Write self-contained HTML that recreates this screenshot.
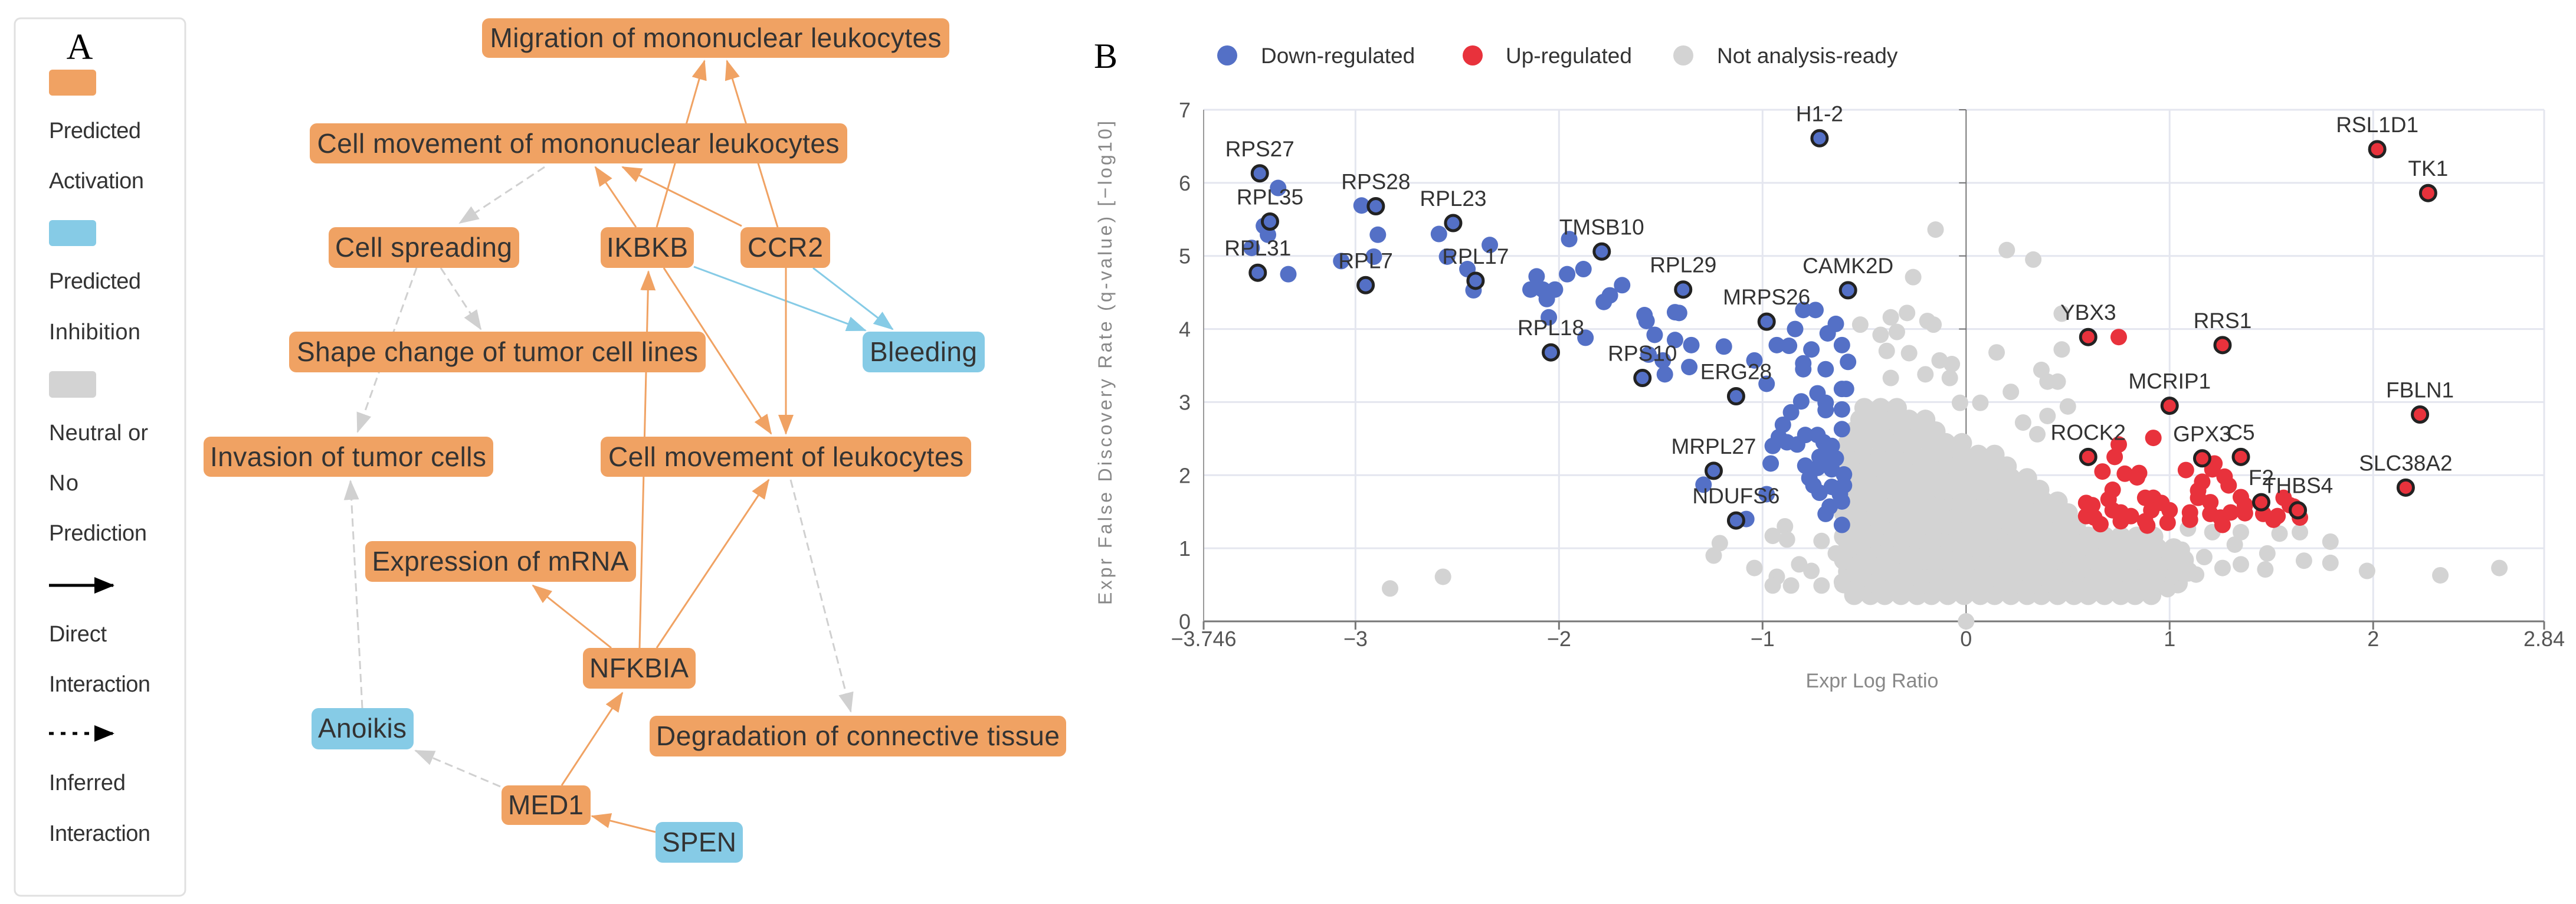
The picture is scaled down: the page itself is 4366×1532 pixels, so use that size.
<!DOCTYPE html>
<html><head><meta charset="utf-8"><style>
html,body{margin:0;padding:0;background:#fff;}
svg{display:block;}
text{font-family:"Liberation Sans",sans-serif;}
</style></head>
<body>
<svg id="root" width="4366" height="1532" viewBox="0 0 4366 1532" xmlns="http://www.w3.org/2000/svg">
<defs>
<marker id="ao" markerUnits="userSpaceOnUse" markerWidth="34" markerHeight="26" refX="32" refY="13" orient="auto"><path d="M0,0 L34,13 L0,26 Z" fill="#f0a263"/></marker>
<marker id="ab" markerUnits="userSpaceOnUse" markerWidth="34" markerHeight="26" refX="32" refY="13" orient="auto"><path d="M0,0 L34,13 L0,26 Z" fill="#86cbe6"/></marker>
<marker id="ag" markerUnits="userSpaceOnUse" markerWidth="34" markerHeight="26" refX="32" refY="13" orient="auto"><path d="M0,0 L34,13 L0,26 Z" fill="#d0d0d0"/></marker>
<marker id="ak" markerUnits="userSpaceOnUse" markerWidth="34" markerHeight="28" refX="32" refY="14" orient="auto"><path d="M0,0 L34,14 L0,28 Z" fill="#000"/></marker>
</defs>

<g>
<rect x="25" y="31" width="289" height="1487" rx="10" fill="#fff" stroke="#e0e0e0" stroke-width="3"/>
<text x="135" y="100" font-size="62" text-anchor="middle" fill="#000" style="font-family:'Liberation Serif',serif">A</text>
<rect x="83" y="118" width="80" height="44" rx="6" fill="#f0a263"/>
<text x="83" y="234" font-size="38" fill="#333" textLength="156">Predicted</text>
<text x="83" y="319" font-size="38" fill="#333" textLength="161">Activation</text>
<rect x="83" y="373" width="80" height="44" rx="6" fill="#86cbe6"/>
<text x="83" y="489" font-size="38" fill="#333" textLength="156">Predicted</text>
<text x="83" y="575" font-size="38" fill="#333" textLength="155">Inhibition</text>
<rect x="83" y="629" width="80" height="45" rx="6" fill="#d3d3d3"/>
<text x="83" y="746" font-size="38" fill="#333" textLength="168">Neutral or</text>
<text x="83" y="831" font-size="38" fill="#333" textLength="50">No</text>
<text x="83" y="916" font-size="38" fill="#333" textLength="166">Prediction</text>
<line x1="83" y1="992" x2="192" y2="992" stroke="#000" stroke-width="5" marker-end="url(#ak)"/>
<text x="83" y="1087" font-size="38" fill="#333" textLength="98">Direct</text>
<text x="83" y="1172" font-size="38" fill="#333" textLength="172">Interaction</text>
<line x1="83" y1="1243" x2="192" y2="1243" stroke="#000" stroke-width="5" stroke-dasharray="8,12" marker-end="url(#ak)"/>
<text x="83" y="1339" font-size="38" fill="#333" textLength="130">Inferred</text>
<text x="83" y="1425" font-size="38" fill="#333" textLength="172">Interaction</text>
</g>

<g stroke-width="3" fill="none">
<line x1="1113" y1="385" x2="1194" y2="103" stroke="#f0a263" marker-end="url(#ao)"/>
<line x1="1318" y1="385" x2="1232" y2="103" stroke="#f0a263" marker-end="url(#ao)"/>
<line x1="1078" y1="385" x2="1009" y2="283" stroke="#f0a263" marker-end="url(#ao)"/>
<line x1="1257" y1="383" x2="1055" y2="283" stroke="#f0a263" marker-end="url(#ao)"/>
<line x1="923" y1="283" x2="779" y2="378" stroke="#d0d0d0" stroke-dasharray="14,8" marker-end="url(#ag)"/>
<line x1="747" y1="454" x2="815" y2="558" stroke="#d0d0d0" stroke-dasharray="14,8" marker-end="url(#ag)"/>
<line x1="706" y1="454" x2="606" y2="732" stroke="#d0d0d0" stroke-dasharray="14,8" marker-end="url(#ag)"/>
<line x1="1176" y1="452" x2="1467" y2="560" stroke="#86cbe6" marker-end="url(#ab)"/>
<line x1="1378" y1="454" x2="1513" y2="558" stroke="#86cbe6" marker-end="url(#ab)"/>
<line x1="1125" y1="454" x2="1307" y2="735" stroke="#f0a263" marker-end="url(#ao)"/>
<line x1="1332" y1="454" x2="1332" y2="735" stroke="#f0a263" marker-end="url(#ao)"/>
<line x1="1084" y1="1098" x2="1099" y2="460" stroke="#f0a263" marker-end="url(#ao)"/>
<line x1="1113" y1="1098" x2="1303" y2="813" stroke="#f0a263" marker-end="url(#ao)"/>
<line x1="1036" y1="1098" x2="903" y2="992" stroke="#f0a263" marker-end="url(#ao)"/>
<line x1="1340" y1="813" x2="1442" y2="1206" stroke="#d0d0d0" stroke-dasharray="14,8" marker-end="url(#ag)"/>
<line x1="614" y1="1200" x2="594" y2="815" stroke="#d0d0d0" stroke-dasharray="14,8" marker-end="url(#ag)"/>
<line x1="848" y1="1333" x2="704" y2="1272" stroke="#d0d0d0" stroke-dasharray="14,8" marker-end="url(#ag)"/>
<line x1="952" y1="1331" x2="1055" y2="1174" stroke="#f0a263" marker-end="url(#ao)"/>
<line x1="1111" y1="1410" x2="1003" y2="1383" stroke="#f0a263" marker-end="url(#ao)"/>
</g>

<g font-size="46" fill="#333">
<g><rect x="817" y="31" width="792" height="67" rx="12" fill="#f0a263"/><text x="1213" y="80" text-anchor="middle" fill="#333" textLength="765">Migration of mononuclear leukocytes</text></g>
<g><rect x="525" y="209" width="911" height="68" rx="12" fill="#f0a263"/><text x="980" y="259" text-anchor="middle" fill="#333" textLength="885">Cell movement of mononuclear leukocytes</text></g>
<g><rect x="557" y="385" width="323" height="69" rx="12" fill="#f0a263"/><text x="718" y="435" text-anchor="middle" fill="#333" textLength="300">Cell spreading</text></g>
<g><rect x="1018" y="385" width="158" height="69" rx="12" fill="#f0a263"/><text x="1097" y="435" text-anchor="middle" fill="#333" textLength="138">IKBKB</text></g>
<g><rect x="1255" y="385" width="152" height="69" rx="12" fill="#f0a263"/><text x="1331" y="435" text-anchor="middle" fill="#333" textLength="128">CCR2</text></g>
<g><rect x="490" y="562" width="706" height="69" rx="12" fill="#f0a263"/><text x="843" y="612" text-anchor="middle" fill="#333" textLength="680">Shape change of tumor cell lines</text></g>
<g><rect x="1462" y="562" width="207" height="69" rx="12" fill="#86cbe6"/><text x="1565" y="612" text-anchor="middle" fill="#333" textLength="182">Bleeding</text></g>
<g><rect x="345" y="740" width="491" height="68" rx="12" fill="#f0a263"/><text x="590" y="790" text-anchor="middle" fill="#333" textLength="468">Invasion of tumor cells</text></g>
<g><rect x="1018" y="740" width="628" height="68" rx="12" fill="#f0a263"/><text x="1332" y="790" text-anchor="middle" fill="#333" textLength="602">Cell movement of leukocytes</text></g>
<g><rect x="619" y="917" width="459" height="69" rx="12" fill="#f0a263"/><text x="848" y="967" text-anchor="middle" fill="#333" textLength="435">Expression of mRNA</text></g>
<g><rect x="988" y="1098" width="191" height="69" rx="12" fill="#f0a263"/><text x="1083" y="1148" text-anchor="middle" fill="#333" textLength="168">NFKBIA</text></g>
<g><rect x="528" y="1200" width="173" height="70" rx="12" fill="#86cbe6"/><text x="614" y="1250" text-anchor="middle" fill="#333" textLength="150">Anoikis</text></g>
<g><rect x="1101" y="1213" width="706" height="69" rx="12" fill="#f0a263"/><text x="1454" y="1263" text-anchor="middle" fill="#333" textLength="684">Degradation of connective tissue</text></g>
<g><rect x="850" y="1331" width="151" height="67" rx="12" fill="#f0a263"/><text x="925" y="1380" text-anchor="middle" fill="#333" textLength="128">MED1</text></g>
<g><rect x="1111" y="1393" width="148" height="69" rx="12" fill="#86cbe6"/><text x="1185" y="1443" text-anchor="middle" fill="#333" textLength="126">SPEN</text></g>
</g>

<text x="1874" y="115" font-size="60" text-anchor="middle" fill="#000" style="font-family:'Liberation Serif',serif">B</text>
<g font-size="37" fill="#333">
<g><circle cx="2080" cy="94" r="17" fill="#5470c6"/><text x="2137" y="107" fill="#333">Down-regulated</text></g>
<g><circle cx="2496" cy="94" r="17" fill="#e8323c"/><text x="2552" y="107" fill="#333">Up-regulated</text></g>
<g><circle cx="2853" cy="94" r="17" fill="#d3d3d3"/><text x="2910" y="107" fill="#333">Not analysis-ready</text></g>
</g>
<g id="grid"></g>
<g id="axes"></g>
<g id="marks"></g>
<g id="labels"></g>
<text x="1884" y="615" font-size="32" fill="#888" text-anchor="middle" transform="rotate(-90 1884 615)" textLength="820">Expr False Discovery Rate (q-value) [−log10]</text>
<text x="3173" y="1165" font-size="34" fill="#888" text-anchor="middle">Expr Log Ratio</text>
</svg>

<script>
const xTicks = [-3.746, -3, -2, -1, 0, 1, 2, 2.84];
const xTickLabels = ["−3.746", "−3", "−2", "−1", "0", "1", "2", "2.84"];
const yTicks = [0, 1, 2, 3, 4, 5, 6, 7];
const yTickLabels = ["0", "1", "2", "3", "4", "5", "6", "7"];

const labeledGenes = ["RPS27","RPL35","RPL31","RPS28","RPL7","RPL23","RPL17","TMSB10","RPL29","RPL18","RPS10","ERG28","MRPS26","CAMK2D","H1-2","MRPL27","NDUFS6","RSL1D1","TK1","YBX3","RRS1","MCRIP1","FBLN1","ROCK2","GPX3","C5","F2","THBS4","SLC38A2"];
const labeledX = [-3.47,-3.42,-3.48,-2.90,-2.95,-2.52,-2.41,-1.79,-1.39,-2.04,-1.59,-1.13,-0.98,-0.58,-0.72,-1.24,-1.13,2.02,2.27,0.60,1.26,1.00,2.23,0.60,1.16,1.35,1.45,1.63,2.16];
const labeledY = [6.13,5.47,4.77,5.68,4.60,5.45,4.66,5.06,4.54,3.68,3.33,3.08,4.10,4.53,6.61,2.06,1.38,6.46,5.86,3.89,3.78,2.95,2.83,2.25,2.23,2.25,1.63,1.52,1.83];

const blueX = [-3.38,-3.45,-3.43,-3.51,-3.33,-2.97,-2.89,-3.07,-2.91,-2.59,-2.34,-2.55,-2.45,-2.42,-1.95,-1.88,-1.96,-2.11,-2.14,-2.08,-2.02,-2.06,-1.69,-1.75,-1.78,-2.05,-1.87,-1.58,-1.57,-1.53,-1.43,-1.41,-1.43,-1.35,-1.36,-1.49,-1.48,-1.56,-1.19,-1.04,-0.98,-0.93,-0.87,-0.84,-0.80,-0.74,-0.76,-0.80,-0.80,-0.69,-0.64,-0.68,-0.61,-0.58,-0.61,-0.59,-0.73,-0.81,-0.69,-0.69,-0.61,-0.86,-0.90,-0.61,-0.92,-0.95,-0.88,-0.83,-0.79,-0.73,-0.70,-0.66,-0.69,-0.64,-0.72,-0.79,-0.73,-0.66,-0.96,-0.60,-0.77,-0.75,-0.72,-0.66,-0.60,-0.62,-0.61,-0.67,-0.69,-0.61,-1.29,-0.98,-1.08];
const blueY = [5.93,5.41,5.29,5.11,4.75,5.69,5.29,4.93,4.99,5.30,5.15,4.99,4.82,4.53,5.23,4.82,4.75,4.72,4.54,4.54,4.54,4.41,4.60,4.46,4.37,4.16,3.88,4.19,4.11,3.92,4.23,4.22,3.85,3.78,3.48,3.57,3.38,3.65,3.76,3.57,3.25,3.78,3.77,4.00,4.26,4.26,3.72,3.53,3.45,3.45,4.07,3.94,3.78,3.55,3.18,3.18,3.12,3.01,2.99,2.89,2.90,2.86,2.69,2.63,2.52,2.40,2.45,2.42,2.55,2.55,2.45,2.40,2.25,2.23,2.25,2.13,2.10,2.08,2.16,2.01,1.96,1.86,1.76,1.84,1.86,1.74,1.64,1.57,1.47,1.32,1.87,1.74,1.40];

const redX = [0.75,0.92,0.75,0.73,0.67,0.78,0.85,0.84,1.08,1.22,1.21,1.27,1.29,1.16,1.14,1.14,1.20,0.72,0.70,0.59,0.62,0.88,0.92,0.96,0.91,1.00,0.72,0.76,0.81,0.59,0.63,0.66,0.76,0.88,0.89,0.99,1.10,1.10,1.20,1.25,1.26,1.30,1.35,1.37,1.37,1.46,1.51,1.53,1.56,1.59,1.61,1.64];
const redY = [3.89,2.51,2.42,2.25,2.05,2.02,2.03,1.97,2.07,2.16,2.08,1.98,1.86,1.91,1.79,1.69,1.63,1.80,1.67,1.62,1.59,1.69,1.69,1.62,1.52,1.52,1.52,1.49,1.44,1.44,1.42,1.33,1.37,1.37,1.31,1.35,1.49,1.39,1.47,1.42,1.32,1.49,1.70,1.59,1.48,1.47,1.39,1.44,1.69,1.59,1.57,1.42];

const grayX = [-0.15,-0.26,-0.52,-0.37,-0.29,-0.19,-0.16,-0.42,-0.34,-0.28,-0.39,-0.13,-0.07,-0.20,-0.08,-0.37,0.20,0.33,0.47,0.47,0.15,0.37,0.40,0.45,0.22,0.50,0.40,0.28,0.35,-0.03,0.07,1.79,1.66,1.79,1.97,2.33,2.62,1.47,1.35,1.26,1.32,1.48,1.54,1.64,1.35,1.21,1.09,1.17,1.06,1.13,0.99,-2.83,-2.57,-1.24,-1.21,-1.04,-0.95,-0.89,-0.88,-0.93,-0.95,-0.82,-0.86,-0.76,-0.71,-0.71,-0.64,-0.61,0.00];
const grayY = [5.36,4.71,4.06,4.16,4.22,4.11,4.06,3.92,3.96,3.67,3.70,3.57,3.52,3.38,3.33,3.33,5.08,4.95,4.21,3.72,3.68,3.44,3.28,3.28,3.14,2.94,2.81,2.72,2.56,2.99,2.99,1.09,0.83,0.80,0.69,0.63,0.73,0.71,0.78,0.73,1.05,0.93,1.20,1.22,1.22,1.22,1.27,0.88,0.98,0.64,0.44,0.45,0.61,0.90,1.07,0.73,1.17,1.30,1.12,0.61,0.49,0.78,0.49,0.69,1.10,0.49,0.93,0.54,0.00];

const grayRowY = [0.36,0.52,0.68,0.84,1.00,1.16,1.32,1.48,1.64,1.80,1.96,2.12,2.28,2.44,2.60,2.76,2.92];
const grayRowX = [
 [-0.55,-0.47,-0.40,-0.32,-0.24,-0.17,-0.09,-0.01,0.07,0.14,0.22,0.30,0.37,0.45,0.53,0.60,0.68,0.76,0.83,0.91],
 [-0.60,-0.52,-0.45,-0.37,-0.29,-0.21,-0.13,-0.05,0.03,0.11,0.18,0.26,0.34,0.42,0.49,0.57,0.65,0.73,0.81,0.88,0.96,1.04],
 [-0.58,-0.50,-0.42,-0.34,-0.26,-0.18,-0.10,-0.02,0.06,0.14,0.22,0.30,0.38,0.46,0.54,0.62,0.70,0.78,0.86,0.94,1.02,1.09],
 [-0.60,-0.52,-0.44,-0.36,-0.28,-0.20,-0.12,-0.04,0.04,0.12,0.20,0.28,0.36,0.44,0.52,0.60,0.68,0.76,0.84,0.92,1.00,1.07],
 [-0.58,-0.50,-0.42,-0.34,-0.26,-0.18,-0.10,-0.02,0.06,0.14,0.22,0.30,0.38,0.46,0.54,0.62,0.70,0.78,0.86,0.94,1.02],
 [-0.60,-0.52,-0.44,-0.36,-0.28,-0.20,-0.12,-0.04,0.04,0.12,0.20,0.28,0.36,0.44,0.52,0.60,0.68,0.76,0.84,0.92],
 [-0.58,-0.50,-0.42,-0.34,-0.26,-0.18,-0.10,-0.02,0.06,0.14,0.22,0.30,0.38,0.46,0.54],
 [-0.60,-0.52,-0.44,-0.36,-0.28,-0.20,-0.12,-0.04,0.04,0.12,0.20,0.28,0.36,0.44,0.50],
 [-0.58,-0.50,-0.42,-0.34,-0.26,-0.18,-0.10,-0.02,0.06,0.14,0.22,0.30,0.38,0.45],
 [-0.60,-0.52,-0.44,-0.36,-0.28,-0.20,-0.12,-0.04,0.04,0.12,0.20,0.28,0.36],
 [-0.58,-0.50,-0.42,-0.34,-0.26,-0.18,-0.10,-0.02,0.06,0.14,0.22,0.30],
 [-0.60,-0.52,-0.44,-0.36,-0.28,-0.20,-0.12,-0.04,0.04,0.12,0.20],
 [-0.58,-0.50,-0.42,-0.34,-0.26,-0.18,-0.10,-0.02,0.06,0.14],
 [-0.58,-0.50,-0.42,-0.34,-0.26,-0.18,-0.10,-0.02],
 [-0.55,-0.47,-0.39,-0.31,-0.23,-0.15],
 [-0.52,-0.44,-0.36,-0.28,-0.20],
 [-0.50,-0.42,-0.34]
];

const X0 = 2040, X1 = 4312, Y0 = 1053, Y1 = 186;
const xMin = -3.746, xMax = 2.84, yMin = 0, yMax = 7;
function sx(v){ return X0 + (v - xMin) / (xMax - xMin) * (X1 - X0); }
function sy(v){ return Y0 - (v - yMin) / (yMax - yMin) * (Y0 - Y1); }
const NS = "http://www.w3.org/2000/svg";
function mk(tag, attrs, parent){ const e = document.createElementNS(NS, tag); for (const k in attrs) e.setAttribute(k, attrs[k]); parent.appendChild(e); return e; }

const grid = document.getElementById('grid');
const axes = document.getElementById('axes');
const marks = document.getElementById('marks');
const labels = document.getElementById('labels');

yTicks.forEach((t, i) => {
  if (t > 0) {
    const g = mk('line', {x1: X0, x2: X1, y1: sy(t), y2: sy(t), stroke: '#e4e6ef', 'stroke-width': 3}, grid);
    
    
    const tk = mk('line', {x1: sx(0) - 12, x2: sx(0), y1: sy(t), y2: sy(t), stroke: '#777', 'stroke-width': 2}, axes);
    
    
  }
  const lb = mk('text', {x: 2018, y: sy(t) + 13, 'font-size': 36, fill: '#555', 'text-anchor': 'end'}, axes);
  lb.textContent = yTickLabels[i];
  
  
});
xTicks.forEach((t, i) => {
  if (t !== 0 && t !== xMin) {
    const g = mk('line', {x1: sx(t), x2: sx(t), y1: Y1, y2: Y0, stroke: '#e4e6ef', 'stroke-width': 3}, grid);
    
    
  }
  const tk = mk('line', {x1: sx(t), x2: sx(t), y1: Y0, y2: Y0 + 14, stroke: '#777', 'stroke-width': 3}, axes);
  
  
  const lb = mk('text', {x: sx(t), y: Y0 + 42, 'font-size': 36, fill: '#555', 'text-anchor': 'middle'}, axes);
  lb.textContent = xTickLabels[i];
  
  
});
const xa = mk('line', {x1: X0, x2: X1, y1: Y0, y2: Y0, stroke: '#777', 'stroke-width': 3}, axes);


const ya = mk('line', {x1: X0, x2: X0, y1: Y1, y2: Y0, stroke: '#999', 'stroke-width': 2}, axes);


const zl = mk('line', {x1: sx(0), x2: sx(0), y1: Y1, y2: Y0, stroke: '#777', 'stroke-width': 2}, axes);



const R = 14;
grayRowY.forEach((yv, r) => {
  grayRowX[r].forEach(xv => {
    const c = mk('circle', {cx: sx(xv), cy: sy(yv), r: 17, fill: '#d3d3d3'}, marks);
    
    
  });
});
grayX.forEach((xv, i) => {
  const c = mk('circle', {cx: sx(xv), cy: sy(grayY[i]), r: R, fill: '#d3d3d3'}, marks);
  
  
});
blueX.forEach((xv, i) => {
  const c = mk('circle', {cx: sx(xv), cy: sy(blueY[i]), r: R, fill: '#5470c6'}, marks);
  
  
});
redX.forEach((xv, i) => {
  const c = mk('circle', {cx: sx(xv), cy: sy(redY[i]), r: R, fill: '#e8323c'}, marks);
  
  
});
labeledGenes.forEach((g, i) => {
  const up = labeledX[i] > 0;
  const c = mk('circle', {cx: sx(labeledX[i]), cy: sy(labeledY[i]), r: 13, fill: up ? '#e8323c' : '#5470c6', stroke: '#222', 'stroke-width': 5}, marks);
  
  
  const t = mk('text', {x: sx(labeledX[i]), y: sy(labeledY[i]) - 29, 'font-size': 37, fill: '#333', 'text-anchor': 'middle'}, labels);
  t.textContent = g;
  
  
});
</script>
</body></html>
